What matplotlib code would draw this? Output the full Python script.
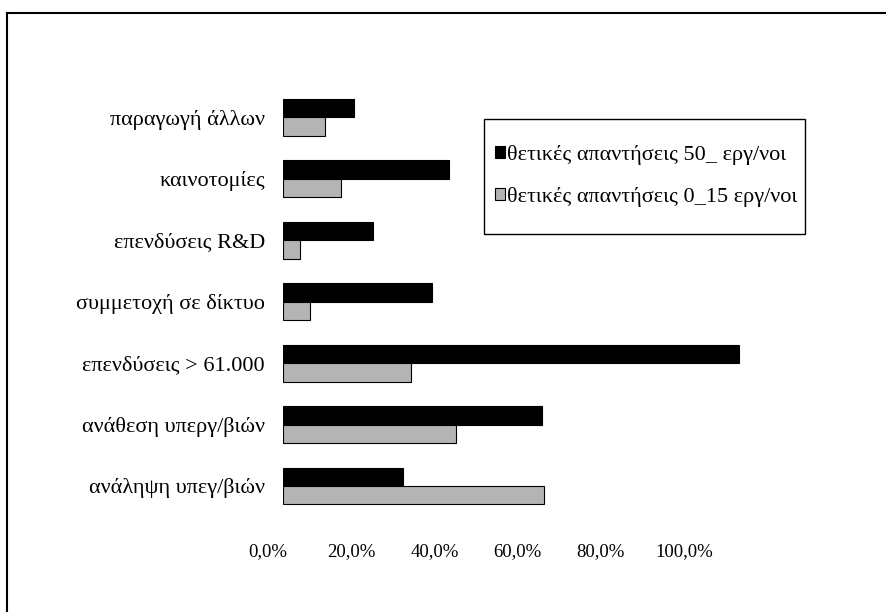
import numpy as np
import matplotlib.pyplot as plt
from matplotlib.lines import Line2D
from matplotlib.patches import Rectangle
from matplotlib.ticker import FuncFormatter
from matplotlib.transforms import ScaledTranslation

plt.rcParams['font.family'] = ['Liberation Serif', 'DejaVu Serif']

categories = ['παραγωγή άλλων', 'καινοτομίες', 'επενδύσεις R&D', 'συμμετοχή σε δίκτυο',
              'επενδύσεις > 61.000', 'ανάθεση υπεργ/βιών', 'ανάληψη υπεγ/βιών']
big = [0.171, 0.398, 0.216, 0.359, 1.097, 0.623, 0.289]    # 50_ εργ/νοι
small = [0.101, 0.139, 0.041, 0.065, 0.307, 0.416, 0.628]  # 0_15 εργ/νοι
labels = ['θετικές απαντήσεις 50_ εργ/νοι', 'θετικές απαντήσεις 0_15 εργ/νοι']

W, H = 886, 612
fig = plt.figure(figsize=(W / 100, H / 100), dpi=100)
ax = fig.add_axes([283 / W, 1 - 516.7 / H, 499.2 / W, 430.1 / H])

y = np.arange(len(categories))
h = 0.30
ax.barh(y - h / 2, big, height=h, color='black', edgecolor='black', linewidth=0.8, label=labels[0])
ax.barh(y + h / 2, small, height=h, color='#b4b4b4', edgecolor='black', linewidth=0.8, label=labels[1])

ax.set_ylim(len(categories) - 0.5, -0.5)
ax.set_xlim(0, 1.2)
ax.set_yticks(y)
ax.set_yticklabels(categories, fontsize=16)
ax.set_xticks([0, 0.2, 0.4, 0.6, 0.8, 1.0])
ax.xaxis.set_major_formatter(FuncFormatter(lambda v, p: '{:.1f}%'.format(v * 100).replace('.', ',')))
ax.tick_params(axis='x', length=0, pad=19, labelsize=13.5)
ax.tick_params(axis='y', length=0, pad=13)
# tick labels sit a little left of the bars' zero line in the original
for lab in ax.get_xticklabels():
    lab.set_transform(lab.get_transform() + ScaledTranslation(-15 / 100, 0, fig.dpi_scale_trans))
for s in ax.spines.values():
    s.set_visible(False)

# legend entries without frame, box drawn separately to get the loose padding
leg = ax.legend(loc='upper left', bbox_to_anchor=(495 / W, 1 - 145 / H), bbox_transform=fig.transFigure,
                fontsize=16, frameon=False, handlelength=0.45, handleheight=0.45,
                handletextpad=0.1, labelspacing=1.0, borderpad=0, borderaxespad=0)
fig.add_artist(Rectangle((484 / W, 1 - 234 / H), 321 / W, 115 / H, transform=fig.transFigure,
                         fill=False, edgecolor='black', linewidth=1.0))

# page frame: only the top and left edges are visible
fig.add_artist(Line2D([6.5 / W, 6.5 / W], [0, 1 - 13 / H], color='black', linewidth=1.5))
fig.add_artist(Line2D([6.5 / W, 1], [1 - 13 / H, 1 - 13 / H], color='black', linewidth=1.5))

plt.savefig('out.png', dpi=100)
